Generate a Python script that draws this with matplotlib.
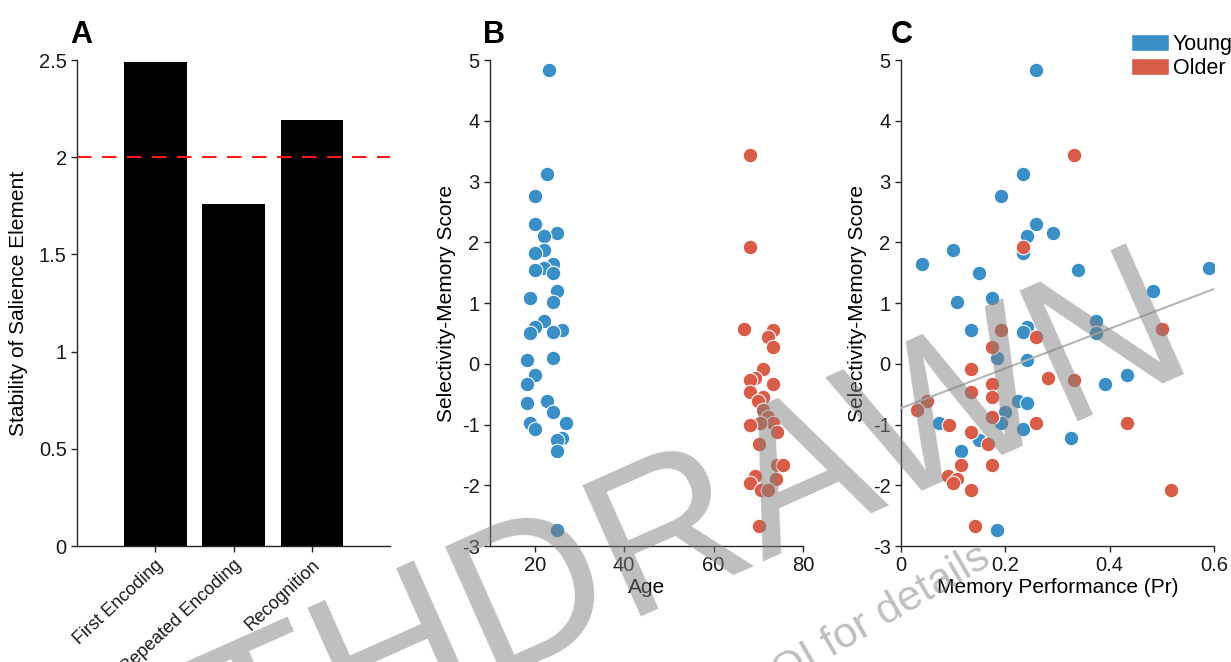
import matplotlib
matplotlib.use("Agg")
import matplotlib.pyplot as plt
from matplotlib.patches import Patch
import numpy as np

plt.rcParams['font.family'] = ['Liberation Sans', 'DejaVu Sans']
plt.rcParams['axes.unicode_minus'] = False

# panel A
conditions = ['First Encoding', 'Repeated Encoding', 'Recognition']
stability = [2.49, 1.76, 2.19]
threshold = 2.0

# panels B/C, young group
young_age = [23.1, 22.8, 20.0, 20.0, 25.1, 22.1, 22.1, 20.0, 24.0, 22.0, 20.0, 24.0,
             25.1, 19.0, 24.0, 22.1, 20.0, 26.1, 24.0, 19.0, 24.0, 18.3, 20.0, 18.3,
             22.8, 18.3, 24.0, 19.0, 26.9, 20.0, 26.1, 25.1, 25.1, 25.1]
young_mem = [0.259, 0.233, 0.192, 0.259, 0.291, 0.241, 0.099, 0.233, 0.040, 0.591, 0.340, 0.150,
             0.483, 0.175, 0.107, 0.374, 0.241, 0.134, 0.233, 0.374, 0.184, 0.241, 0.434, 0.392,
             0.224, 0.241, 0.199, 0.192, 0.073, 0.233, 0.326, 0.150, 0.115, 0.184]
young_score = [4.83, 3.12, 2.76, 2.30, 2.16, 2.11, 1.87, 1.82, 1.64, 1.57, 1.55, 1.49,
               1.19, 1.09, 1.02, 0.71, 0.60, 0.55, 0.52, 0.51, 0.10, 0.07, -0.19, -0.33,
               -0.62, -0.64, -0.80, -0.97, -0.98, -1.07, -1.23, -1.25, -1.43, -2.74]

# older group
older_age = [68.2, 68.2, 66.9, 73.3, 72.2, 73.3, 71.1, 69.2, 68.1, 73.3, 68.1, 71.1, 70.0, 71.1,
             72.2, 73.3, 70.3, 68.1, 74.3, 70.2, 74.3, 75.5, 69.2, 74.0, 68.1, 70.7, 72.2, 70.2]
older_mem = [0.332, 0.233, 0.500, 0.192, 0.259, 0.175, 0.134, 0.282, 0.332, 0.175, 0.134, 0.175,
             0.050, 0.031, 0.175, 0.434, 0.259, 0.093, 0.134, 0.166, 0.115, 0.175, 0.091, 0.107,
             0.099, 0.134, 0.518, 0.141]
older_score = [3.43, 1.93, 0.57, 0.55, 0.44, 0.28, -0.08, -0.24, -0.27, -0.33, -0.47, -0.55,
               -0.61, -0.76, -0.88, -0.97, -0.98, -1.00, -1.12, -1.32, -1.66, -1.67, -1.84, -1.90,
               -1.97, -2.08, -2.08, -2.67]

fit_intercept = -0.73
fit_slope = 3.27

blue = '#3a8fc7'
red = '#d95c48'
axcol = '#262626'

fig = plt.figure(figsize=(12.31, 6.62), dpi=100)
axA = fig.add_axes([0.0626, 0.1752, 0.2543, 0.7341])
axB = fig.add_axes([0.3980, 0.1752, 0.2543, 0.7341])
axC = fig.add_axes([0.7319, 0.1752, 0.2543, 0.7341])

for ax in (axA, axB, axC):
    for s in ('top', 'right'):
        ax.spines[s].set_visible(False)
    for s in ('left', 'bottom'):
        ax.spines[s].set_color(axcol)
        ax.spines[s].set_linewidth(1.0)
    ax.tick_params(direction='out', length=4, width=1, colors=axcol, labelsize=14.5, labelcolor='#1a1a1a')

# A
pos = np.arange(1, len(conditions) + 1)
axA.bar(pos, stability, width=0.8, color='black')
axA.plot([0, 4], [threshold, threshold], color='#ff1a1a', lw=1.5, dashes=(7, 5))
axA.set_xlim(0, 4)
axA.set_ylim(0, 2.5)
axA.set_yticks([0, 0.5, 1, 1.5, 2, 2.5])
axA.set_yticklabels(['0', '0.5', '1', '1.5', '2', '2.5'])
axA.set_xticks(pos)
axA.set_xticklabels(conditions, rotation=43, ha='right', rotation_mode='anchor', fontsize=13)
axA.set_ylabel('Stability of Salience Element', fontsize=15, labelpad=8)

# B
kw = dict(s=110, edgecolors='white', linewidths=0.8, zorder=3)
axB.scatter(young_age, young_score, color=blue, **kw)
axB.scatter(older_age, older_score, color=red, **kw)
axB.set_xlim(10, 80)
axB.set_ylim(-3, 5)
axB.set_xticks([20, 40, 60, 80])
axB.set_yticks(range(-3, 6))
axB.set_xlabel('Age', fontsize=15, labelpad=2)
axB.set_ylabel('Selectivity-Memory Score', fontsize=15, labelpad=4)

# C
axC.scatter(young_mem, young_score, color=blue, **kw)
axC.scatter(older_mem, older_score, color=red, **kw)
xl = np.array([0, 0.6])
axC.plot(xl, fit_intercept + fit_slope * xl, color='#b5b5b5', lw=1.5, zorder=4)
axC.set_xlim(0, 0.6)
axC.set_ylim(-3, 5)
axC.set_xticks([0, 0.2, 0.4, 0.6])
axC.set_xticklabels(['0', '0.2', '0.4', '0.6'])
axC.set_yticks(range(-3, 6))
axC.set_xlabel('Memory Performance (Pr)', fontsize=15, labelpad=2)
axC.set_ylabel('Selectivity-Memory Score', fontsize=15, labelpad=4)

handles = [Patch(facecolor=blue, edgecolor='white'), Patch(facecolor=red, edgecolor='white')]
fig.legend(handles, ['Young', 'Older'], loc='upper left', bbox_to_anchor=(0.910, 0.965),
           frameon=False, fontsize=15.5, handlelength=1.75, handleheight=0.8,
           handletextpad=0.2, labelspacing=0.15, borderpad=0)

for x, lab in [(0.057, 'A'), (0.392, 'B'), (0.724, 'C')]:
    fig.text(x, 0.935, lab, fontsize=22, fontweight='bold')

# watermark
fig.text(0.975, 0.445, 'WITHDRAWN', rotation=24, rotation_mode='anchor', ha='right', va='baseline',
         fontsize=150, color=(0.5, 0.5, 0.5), alpha=0.5, zorder=20)
fig.text(0.806, 0.148, 'See retraction notice DOI for details', rotation=30, rotation_mode='anchor',
         ha='right', va='baseline', fontsize=31, color=(0.5, 0.5, 0.5), alpha=0.5, zorder=20)

fig.savefig('out.png', dpi=100)
